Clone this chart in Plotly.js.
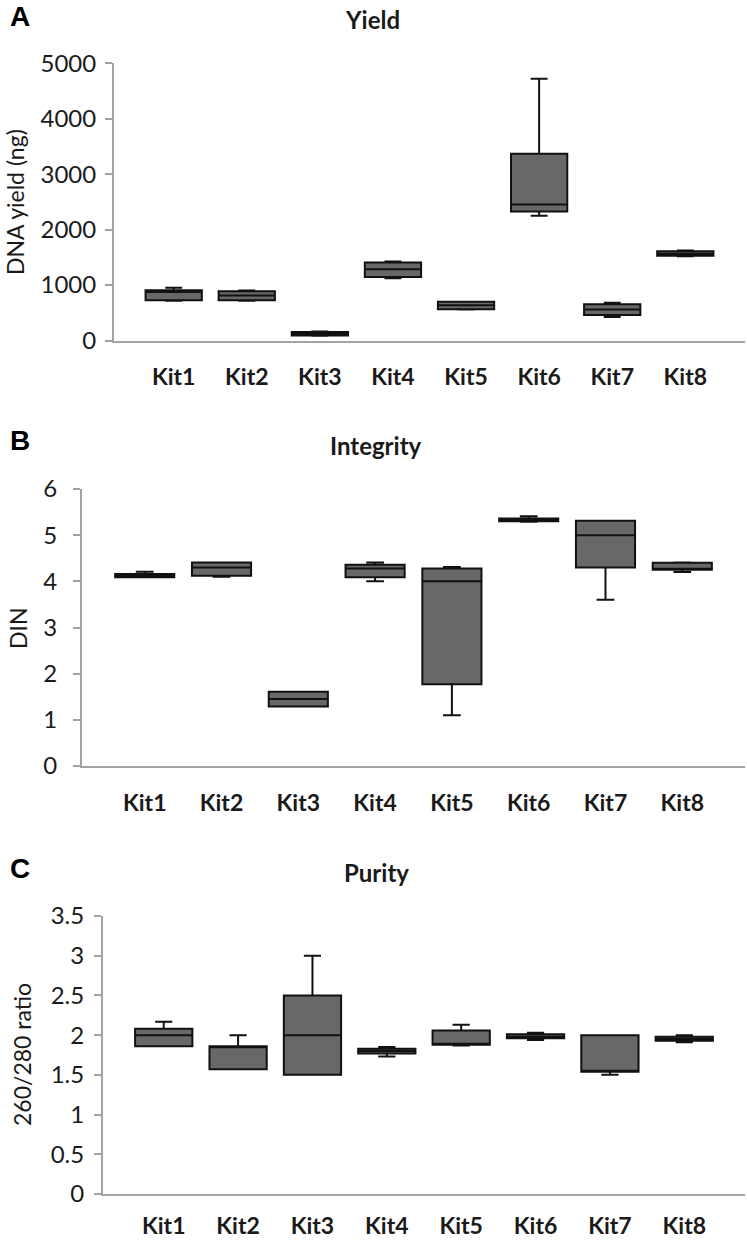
<!DOCTYPE html>
<html>
<head>
<meta charset="utf-8">
<script src="https://cdn.plot.ly/plotly-3.0.1.min.js"></script>
<style>html,body{margin:0;padding:0;background:#fff;}#chart{width:747px;height:1240px;}</style>
</head>
<body>
<div id="chart"></div>
<script>
// Categories
const kits = ['Kit1', 'Kit2', 'Kit3', 'Kit4', 'Kit5', 'Kit6', 'Kit7', 'Kit8'];

// Panel A: Yield (DNA yield, ng)
const yieldLower  = [715, 715,  85, 1121, 560, 2248, 424, 1520];
const yieldQ1     = [727, 727,  92, 1145, 564, 2327, 461, 1530];
const yieldMedian = [875, 812, 121, 1285, 636, 2455, 558, 1565];
const yieldQ3     = [905, 890, 152, 1405, 697, 3370, 652, 1608];
const yieldUpper  = [950, 903, 164, 1425, 700, 4720, 679, 1625];

// Panel B: Integrity (DIN)
const dinLower  = [4.09, 4.10, 1.29, 4.00, 1.10, 5.29, 3.60, 4.20];
const dinQ1     = [4.09, 4.12, 1.29, 4.09, 1.77, 5.30, 4.30, 4.25];
const dinMedian = [4.12, 4.30, 1.45, 4.28, 4.00, 5.33, 5.00, 4.27];
const dinQ3     = [4.16, 4.41, 1.61, 4.36, 4.28, 5.36, 5.31, 4.40];
const dinUpper  = [4.21, 4.41, 1.61, 4.41, 4.31, 5.41, 5.31, 4.41];

// Panel C: Purity (260/280 ratio)
const purLower  = [1.86, 1.57, 1.50, 1.73, 1.87, 1.94, 1.50, 1.91];
const purQ1     = [1.86, 1.57, 1.50, 1.77, 1.88, 1.96, 1.54, 1.93];
const purMedian = [2.00, 1.85, 2.00, 1.80, 1.89, 1.98, 1.55, 1.95];
const purQ3     = [2.08, 1.86, 2.50, 1.83, 2.06, 2.01, 2.00, 1.98];
const purUpper  = [2.17, 2.00, 3.00, 1.85, 2.13, 2.03, 2.00, 2.00];

// Axis ticks
const yieldTicks = [0, 1000, 2000, 3000, 4000, 5000];
const dinTicks = [0, 1, 2, 3, 4, 5, 6];
const purTicks = [0, 0.5, 1, 1.5, 2, 2.5, 3, 3.5];
const purTickText = ['0', '0.5', '1', '1.5', '2', '2.5', '3', '3.5'];

const W = 747, H = 1240;
const FONT = 'Lato, "Open Sans", sans-serif';
const TXT = '#1a1a1a';
const AXIS_GRAY = '#a3a3a3';

function boxTrace(q1, med, q3, lo, hi, xa, ya) {
  return {
    type: 'box', x: kits, q1: q1, median: med, q3: q3,
    lowerfence: lo, upperfence: hi,
    xaxis: xa, yaxis: ya,
    boxpoints: false, width: 0.77, whiskerwidth: 0.3,
    fillcolor: 'rgb(104,104,104)',
    line: { color: '#111', width: 2 },
    showlegend: false, hoverinfo: 'skip'
  };
}

const data = [
  boxTrace(yieldQ1, yieldMedian, yieldQ3, yieldLower, yieldUpper, 'x', 'y'),
  boxTrace(dinQ1, dinMedian, dinQ3, dinLower, dinUpper, 'x2', 'y2'),
  boxTrace(purQ1, purMedian, purQ3, purLower, purUpper, 'x3', 'y3')
];

function px2x(p) { return p / W; }
function px2y(p) { return 1 - p / H; }

function xAxis(l, anchor, standoff) {
  return {
    domain: [px2x(l), px2x(745)], anchor: anchor, type: 'category',
    showline: true, linecolor: AXIS_GRAY, linewidth: 2,
    ticks: '', showgrid: false, zeroline: false,
    tickfont: { family: FONT, size: 23, color: TXT, weight: 'bold' },
    ticklabelstandoff: standoff, fixedrange: true
  };
}
function yAxis(top, bottom, anchor, range, tickvals, ticktext, standoff) {
  return {
    domain: [px2y(bottom), px2y(top)], anchor: anchor, range: range,
    tickmode: 'array', tickvals: tickvals, ticktext: ticktext,
    showline: true, linecolor: AXIS_GRAY, linewidth: 2,
    ticks: 'outside', ticklen: 7, tickwidth: 2, tickcolor: AXIS_GRAY,
    ticklabelstandoff: standoff,
    showgrid: false, zeroline: false,
    tickfont: { family: FONT, size: 24, color: TXT },
    fixedrange: true
  };
}

function ann(text, xpx, ypx, font, extra) {
  return Object.assign({
    text: text, x: px2x(xpx), y: px2y(ypx), xref: 'paper', yref: 'paper',
    xanchor: 'center', yanchor: 'middle', showarrow: false, font: font
  }, extra || {});
}
const letterFont = { family: 'Liberation Sans, Arial, sans-serif', size: 28, color: '#000', weight: 'bold' };
const titleFont = { family: FONT, size: 24, color: TXT, weight: 'bold' };
const yTitleFont = { family: FONT, size: 23, color: TXT };

const layout = {
  width: W, height: H,
  margin: { l: 0, r: 0, t: 0, b: 0 },
  paper_bgcolor: '#fff', plot_bgcolor: '#fff',
  xaxis: xAxis(114, 'y', 15),
  yaxis: yAxis(63.3, 340.5, 'x', [0, 5000], yieldTicks, yieldTicks.map(String), 4),
  xaxis2: xAxis(82, 'y2', 15),
  yaxis2: yAxis(489, 766, 'x2', [0, 6], dinTicks, dinTicks.map(String), 11),
  xaxis3: xAxis(103, 'y3', 10),
  yaxis3: yAxis(916, 1194, 'x3', [0, 3.5], purTicks, purTickText, 5),
  annotations: [
    ann('A', 8, 17, letterFont, { xanchor: 'left' }),
    ann('B', 8, 440, letterFont, { xanchor: 'left' }),
    ann('C', 8, 868, letterFont, { xanchor: 'left' }),
    ann('Yield', 372, 19, titleFont),
    ann('Integrity', 376, 445, titleFont),
    ann('Purity', 376, 872, titleFont),
    ann('DNA yield (ng)', 15, 202, yTitleFont, { textangle: -90 }),
    ann('DIN', 18, 628, yTitleFont, { textangle: -90 }),
    ann('260/280 ratio', 22, 1055, yTitleFont, { textangle: -90 })
  ]
};

Plotly.newPlot('chart', data, layout, { displayModeBar: false, staticPlot: true });
</script>
</body>
</html>
